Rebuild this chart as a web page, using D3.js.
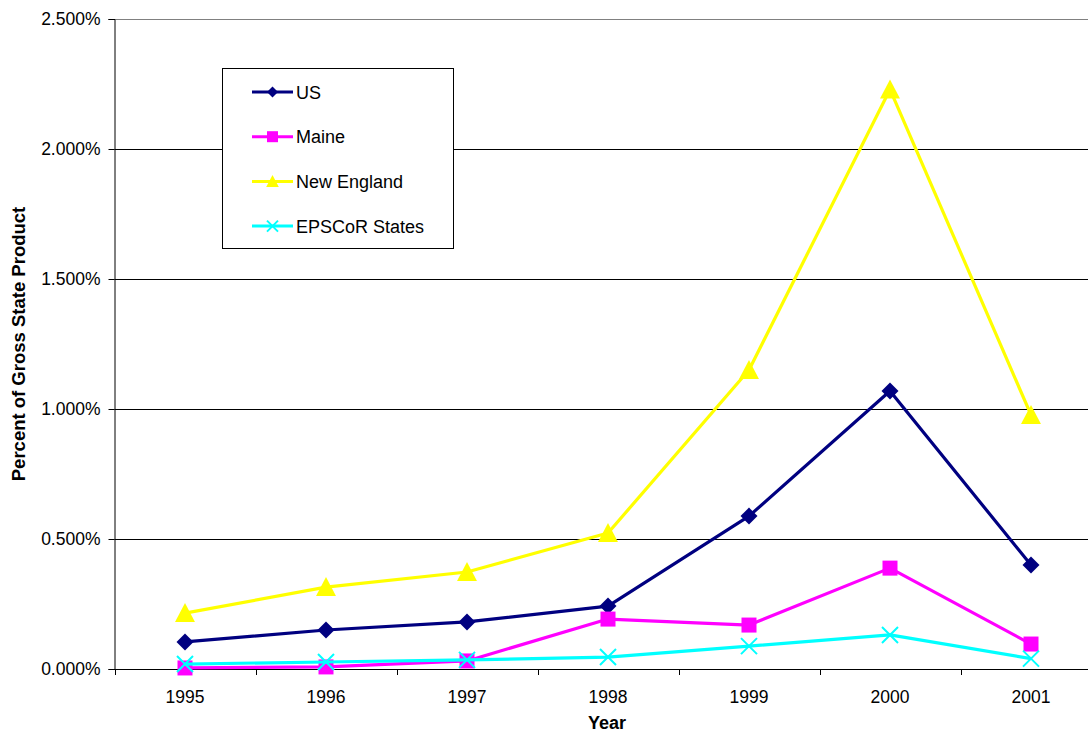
<!DOCTYPE html>
<html><head><meta charset="utf-8">
<script src="https://cdn.jsdelivr.net/npm/d3@7"></script>
<style>body{margin:0;background:#fff}svg{display:block}text{font-family:Arial,"Liberation Sans",sans-serif}</style>
</head><body><svg id="c" width="1088" height="734"></svg>
<script>
const years = ["1995","1996","1997","1998","1999","2000","2001"];
const us = [0.104,0.150,0.181,0.242,0.588,1.069,0.400];
const maine = [0.004,0.008,0.031,0.192,0.169,0.388,0.096];
const newEngland = [0.215,0.315,0.373,0.523,1.150,2.229,0.977];
const epscor = [0.019,0.027,0.035,0.046,0.088,0.131,0.040];
const yTicks = [0,0.5,1,1.5,2,2.5];
const seriesNames = ["US","Maine","New England","EPSCoR States"];
const seriesColors = ["#000080","#FF00FF","#FFFF00","#00FFFF"];
const seriesSymbols = ["diamond","square","triangle","x"];
const seriesData = [us,maine,newEngland,epscor];

const svg = d3.select("#c");
const L=114.5, R=1101.5, T=19, B=669;
const x = d3.scaleBand().domain(years).range([L,R]);
const y = d3.scaleLinear().domain([0,2.5]).range([B,T]);

// gridlines
svg.append("g").selectAll("line").data(yTicks.filter(d=>d>0)).join("line")
  .attr("x1",L).attr("x2",1088).attr("y1",d=>Math.round(y(d))+0.5).attr("y2",d=>Math.round(y(d))+0.5)
  .attr("stroke",d=>d===2.5?"#808080":"#000").attr("stroke-width",1);

// y axis
const ya = svg.append("g").attr("transform",`translate(${L},0)`)
  .call(d3.axisLeft(y).tickValues(yTicks).tickFormat(d=>d3.format(".3f")(d)+"%").tickSize(6).tickPadding(8));
ya.select(".domain").attr("stroke","#000");
ya.selectAll("text").attr("font-size",17.5).attr("fill","#000").attr("font-family","Arial, 'Liberation Sans', sans-serif");
ya.selectAll(".tick line").attr("stroke","#000");

// x axis
const xa = svg.append("g").attr("transform",`translate(0,${B+0.5})`)
  .call(d3.axisBottom(x).tickSize(0).tickPadding(21));
xa.select(".domain").attr("stroke","#000").attr("d",`M${L},0H1088`);
xa.selectAll("text").attr("font-size",17.5).attr("fill","#000").attr("font-family","Arial, 'Liberation Sans', sans-serif");
svg.append("g").selectAll("line").data(d3.range(years.length+1)).join("line")
  .attr("x1",i=>Math.round(L+i*x.bandwidth())+0.5).attr("x2",i=>Math.round(L+i*x.bandwidth())+0.5)
  .attr("y1",B).attr("y2",B+6).attr("stroke","#000");

function marker(g, type, color, s){
  if(type==="diamond"){
    g.append("path").attr("d",`M0,${-s}L${s},0L0,${s}L${-s},0Z`).attr("fill",color);
  } else if(type==="square"){
    g.append("rect").attr("x",-s).attr("y",-s).attr("width",2*s).attr("height",2*s).attr("fill",color);
  } else if(type==="triangle"){
    g.append("path").attr("d",`M0,${-s*1.05}L${s*1.05},${s*0.95}L${-s*1.05},${s*0.95}Z`).attr("fill",color);
  } else {
    g.append("path").attr("d",`M${-s},${-s}L${s},${s}M${-s},${s}L${s},${-s}`).attr("stroke",color).attr("stroke-width",2).attr("fill","none");
  }
}
const sizes = [8.5,7.5,9.5,8];
const line = d3.line().x((d,i)=>x(years[i])+x.bandwidth()/2).y(d=>y(d));
seriesData.forEach((data,k)=>{
  const g = svg.append("g");
  g.append("path").attr("d",line(data)).attr("fill","none").attr("stroke",seriesColors[k]).attr("stroke-width",3.2).attr("stroke-linejoin","round");
  data.forEach((v,i)=>{
    const m = g.append("g").attr("transform",`translate(${x(years[i])+x.bandwidth()/2},${y(v)})`);
    marker(m, seriesSymbols[k], seriesColors[k], sizes[k]);
  });
});

// legend
const lg = svg.append("g");
lg.append("rect").attr("x",222.5).attr("y",68.5).attr("width",231).attr("height",180).attr("fill","#fff").attr("stroke","#000");
seriesNames.forEach((n,k)=>{
  const yy = 92 + k*44.7;
  lg.append("line").attr("x1",252).attr("x2",293).attr("y1",yy).attr("y2",yy).attr("stroke",seriesColors[k]).attr("stroke-width",3);
  const m = lg.append("g").attr("transform",`translate(272.5,${yy})`);
  marker(m, seriesSymbols[k], seriesColors[k], [5.5,5.5,6,5.5][k]);
  lg.append("text").attr("x",296).attr("y",yy+6.5).attr("font-size",18).attr("fill","#000").text(n);
});

// axis titles
svg.append("text").attr("x",607).attr("y",729).attr("text-anchor","middle").attr("font-weight","bold").attr("font-size",18).text("Year");
svg.append("text").attr("transform","translate(25,344) rotate(-90)").attr("text-anchor","middle").attr("font-weight","bold").attr("font-size",18.5).text("Percent of Gross State Product");
</script></body></html>
